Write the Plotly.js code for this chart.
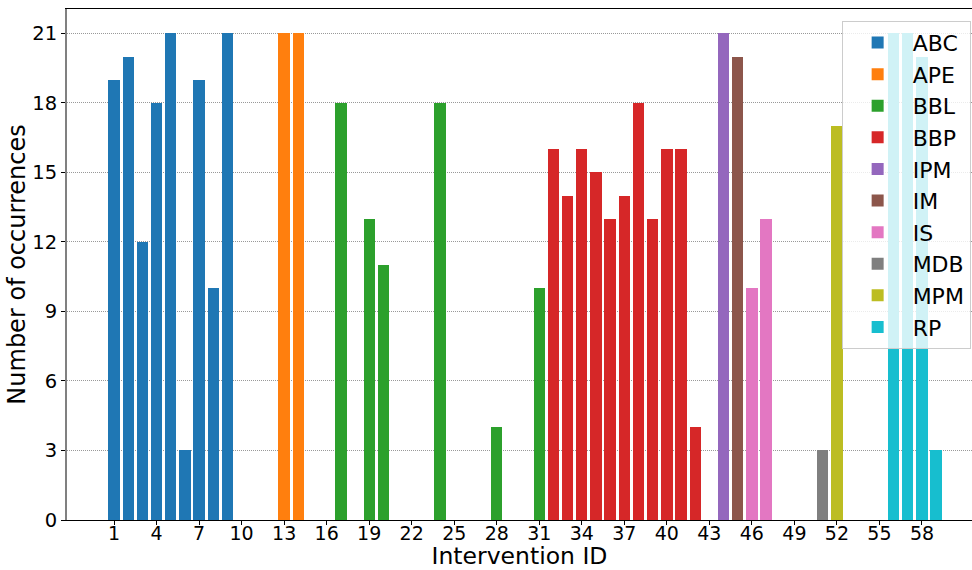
<!DOCTYPE html>
<html>
<head>
<meta charset="utf-8">
<script src="https://cdn.plot.ly/plotly-3.0.1.min.js"></script>
<style>html,body{margin:0;padding:0;background:#fff;overflow:hidden;}#chart{width:972px;height:570px;}</style>
</head>
<body>
<div id="chart"></div>
<script>
// Categories and their bars (intervention IDs and occurrence counts)
const categories = ["ABC","APE","BBL","BBP","IPM","IM","IS","MDB","MPM","RP"];
const colors = ["#1f77b4","#ff7f0e","#2ca02c","#d62728","#9467bd","#8c564b","#e377c2","#7f7f7f","#bcbd22","#17becf"];

const idsABC = [1,2,3,4,5,6,7,8,9];
const valsABC = [19,20,12,18,21,3,19,10,21];
const idsAPE = [13,14];
const valsAPE = [21,21];
const idsBBL = [17,19,20,24,28,31];
const valsBBL = [18,13,11,18,4,10];
const idsBBP = [32,33,34,35,36,37,38,39,40,41,42];
const valsBBP = [16,14,16,15,13,14,18,13,16,16,4];
const idsIPM = [44];
const valsIPM = [21];
const idsIM = [45];
const valsIM = [20];
const idsIS = [46,47];
const valsIS = [10,13];
const idsMDB = [51];
const valsMDB = [3];
const idsMPM = [52];
const valsMPM = [17];
const idsRP = [56,57,58,59];
const valsRP = [21,21,20,3];

const xTicks = [1,4,7,10,13,16,19,22,25,28,31,34,37,40,43,46,49,52,55,58];
const yTicks = [0,3,6,9,12,15,18,21];

const allIds = [idsABC,idsAPE,idsBBL,idsBBP,idsIPM,idsIM,idsIS,idsMDB,idsMPM,idsRP];
const allVals = [valsABC,valsAPE,valsBBL,valsBBP,valsIPM,valsIM,valsIS,valsMDB,valsMPM,valsRP];

const traces = categories.map((c,i)=>({
  type:'bar', name:c, x:allIds[i], y:allVals[i], width:0.8,
  marker:{color:colors[i], line:{width:0}}, legendgroup:c
}));

const font = "DejaVu Sans, sans-serif";
const layout = {
  width:972, height:570,
  margin:{l:67, r:0, t:9, b:50},
  paper_bgcolor:'#fff', plot_bgcolor:'#fff',
  barmode:'overlay', bargap:0,
  font:{family:font, color:'#000'},
  showlegend:true,
  legend:{
    x:0.9985, xanchor:'right', y:0.977, yanchor:'top',
    bgcolor:'rgba(255,255,255,0.8)', bordercolor:'#cccccc', borderwidth:1,
    font:{family:font, size:22, color:'#000'},
    tracegroupgap:8, traceorder:'normal', itemwidth:60
  },
  xaxis:{
    range:[-2.32, 61.53], tickmode:'array', tickvals:xTicks,
    ticks:'outside', ticklen:4, tickwidth:1, tickcolor:'#000',
    tickfont:{family:font, size:19, color:'#000'}, ticklabelstandoff:-8,
    showgrid:false, zeroline:false,
    showline:true, linecolor:'#000', linewidth:1, mirror:true,
    title:{text:'Intervention ID', font:{family:font, size:23.5, color:'#000'}, standoff:6}
  },
  yaxis:{
    range:[0, 22.05], tickmode:'array', tickvals:yTicks,
    ticks:'outside', ticklen:4, tickwidth:1, tickcolor:'#000',
    tickfont:{family:font, size:19.5, color:'#000'},
    showgrid:true, gridcolor:'#999', griddash:'1px,1px', gridwidth:1,
    zeroline:false, showline:true, linecolor:'#808080', linewidth:2,
    title:{text:'Number of occurrences', font:{family:font, size:24, color:'#000'}, standoff:0}
  }
};

Plotly.newPlot('chart', traces, layout, {displayModeBar:false, staticPlot:true});
</script>
</body>
</html>
